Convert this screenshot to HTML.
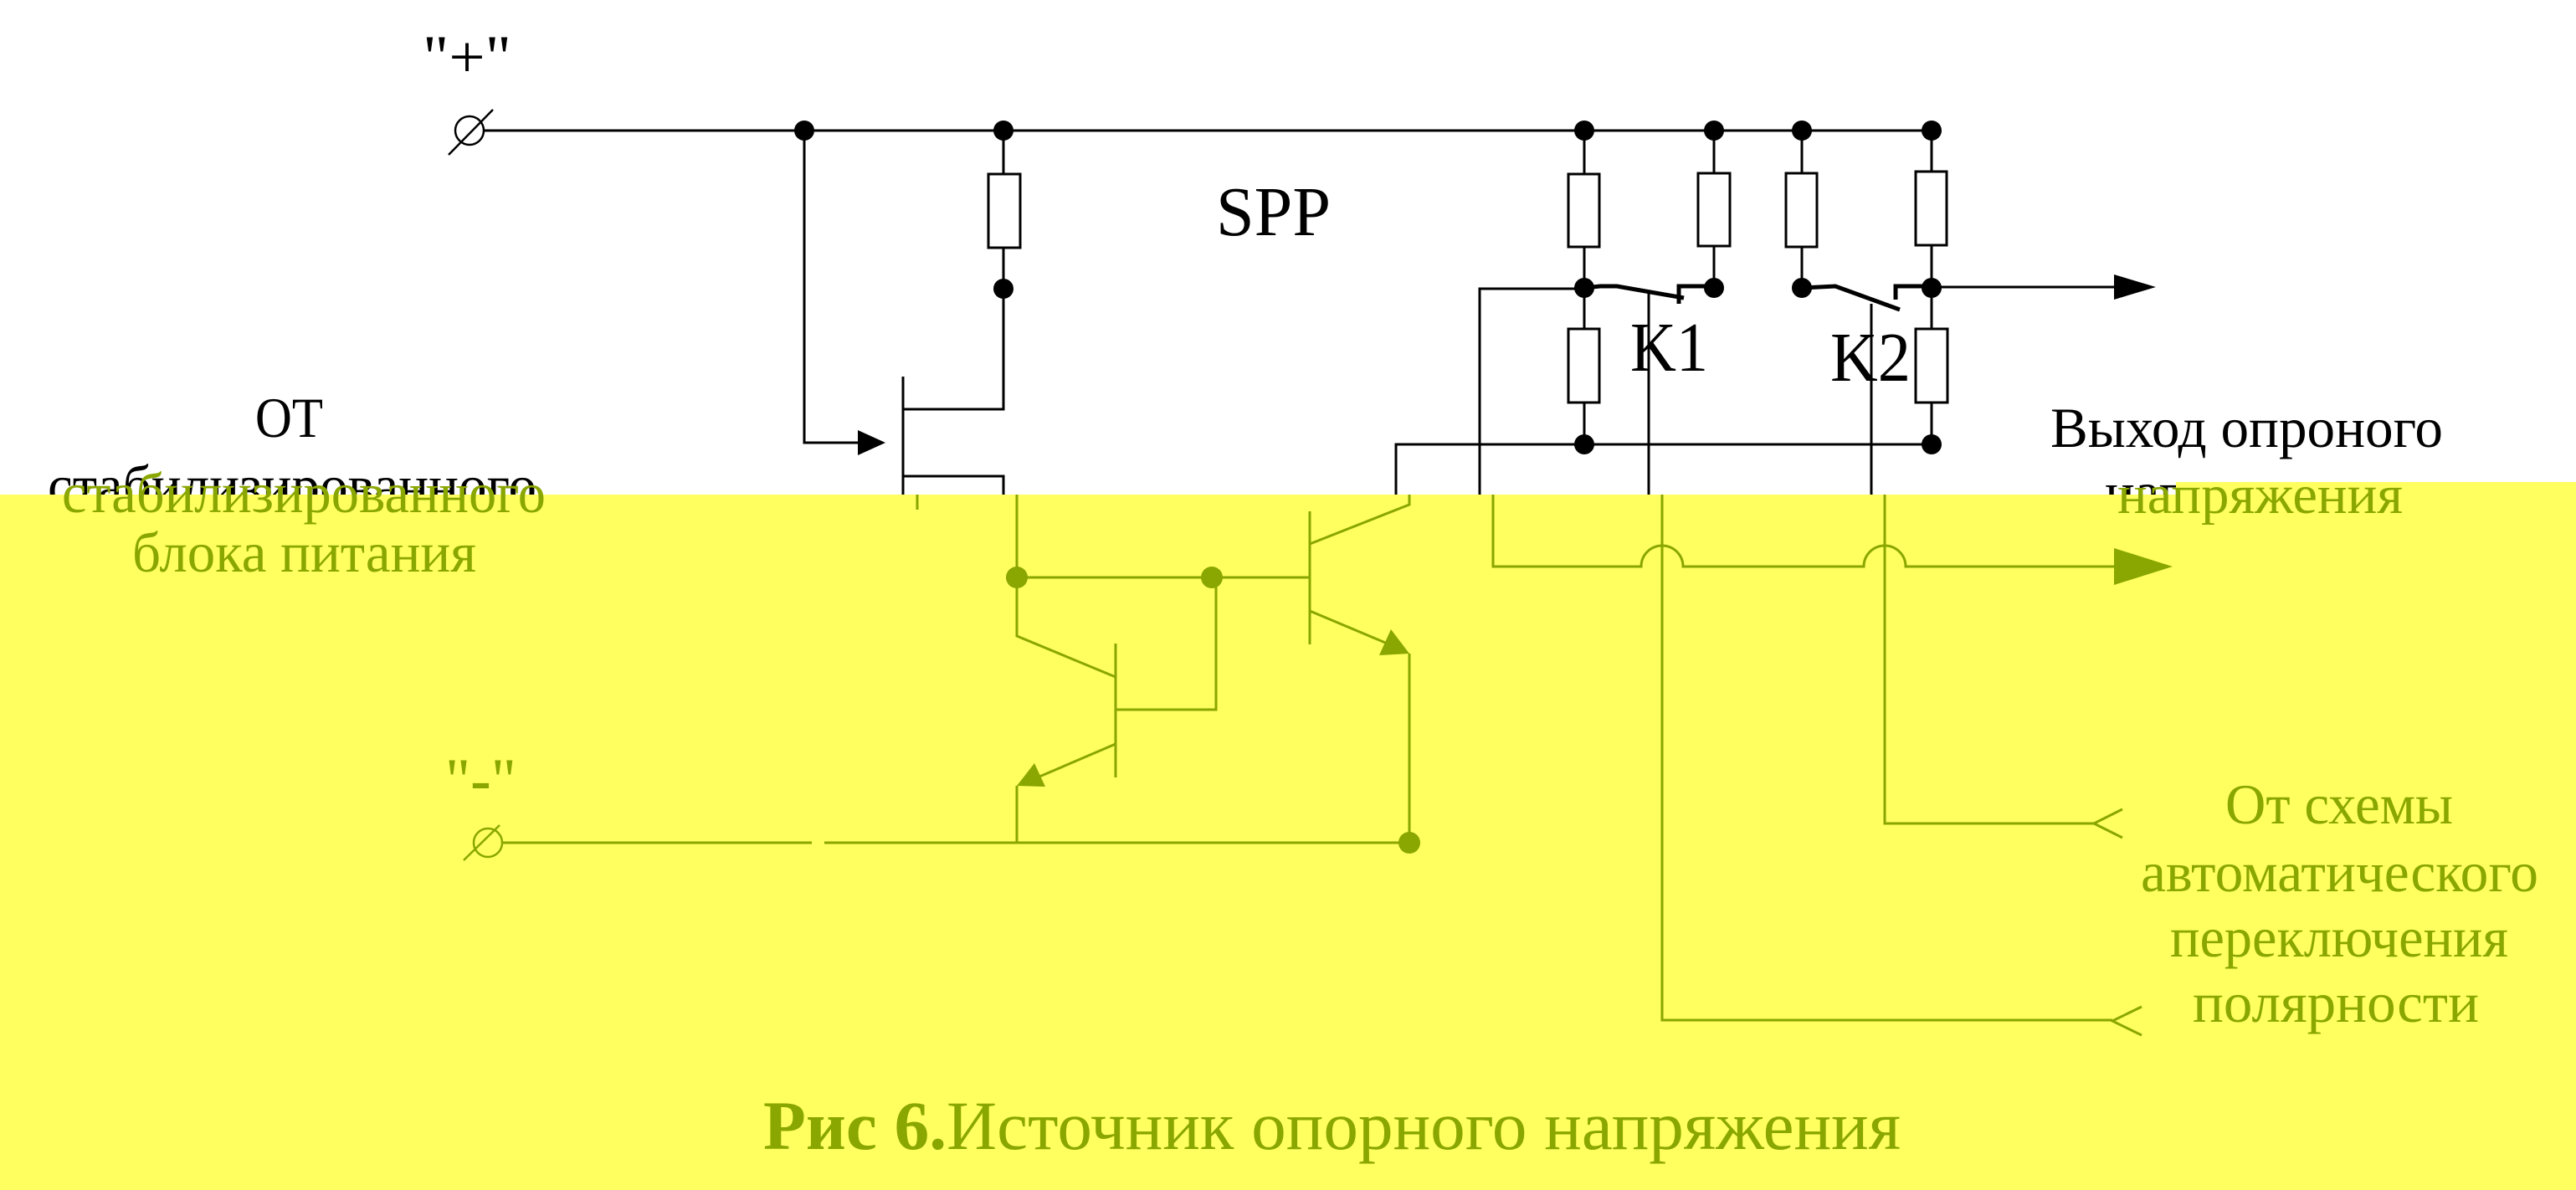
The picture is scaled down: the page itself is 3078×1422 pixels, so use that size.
<!DOCTYPE html>
<html><head><meta charset="utf-8"><style>
html,body{margin:0;padding:0;background:#fff;}
svg{display:block;}
text{font-family:"Liberation Serif","DejaVu Serif",serif;}
</style></head><body>
<svg width="3078" height="1422" viewBox="0 0 3078 1422" xmlns="http://www.w3.org/2000/svg">
<rect width="3078" height="1422" fill="#fff"/>
<!-- BLACK (upper) PART -->
<g stroke="#000" stroke-width="3" fill="none">
  <circle cx="561" cy="156" r="17" stroke-width="2.5"/>
  <line x1="536" y1="185" x2="589" y2="131" stroke-width="2.5"/>
  <path d="M578,156 H2308"/>
  <path d="M961,156 V529 H1030"/>
  <path d="M1199,156 V208 M1199,296 V489 H1079 M1079,450 V591 M1079,569 H1199 V591"/>
  <rect x="1181" y="208" width="38" height="88"/>
  <path d="M1893,156 V208 M1893,295 V393 M1893,481 V531"/>
  <rect x="1874" y="208" width="37" height="87"/>
  <rect x="1874" y="393" width="37" height="88"/>
  <path d="M2048,156 V207 M2048,294 V344"/>
  <rect x="2029" y="207" width="38" height="87"/>
  <path d="M2153,156 V207 M2153,295 V344"/>
  <rect x="2134" y="207" width="37" height="88"/>
  <path d="M2308,156 V205 M2308,293 V393 M2308,481 V531"/>
  <rect x="2289" y="205" width="37" height="88"/>
  <rect x="2289" y="393" width="38" height="88"/>
  <path d="M1768,591 V345 H1893"/>
  <path d="M1668,591 V531 H2308"/>
  <path d="M1970,351 V591 M2236,363 V591"/>
  <path d="M2308,343 H2530"/>
</g>
<g fill="#000">
  <polygon points="1025,514 1025,544 1058,529"/>
  <polygon points="2526,328 2526,358 2576,343"/>
  <circle cx="961" cy="156" r="12"/>
  <circle cx="1199" cy="156" r="12"/>
  <circle cx="1199" cy="345" r="12"/>
  <circle cx="1893" cy="156" r="12"/>
  <circle cx="2048" cy="156" r="12"/>
  <circle cx="2153" cy="156" r="12"/>
  <circle cx="2308" cy="156" r="12"/>
  <circle cx="1893" cy="344" r="12"/>
  <circle cx="2048" cy="344" r="12"/>
  <circle cx="2153" cy="344" r="12"/>
  <circle cx="2308" cy="344" r="12"/>
  <circle cx="1893" cy="531" r="12"/>
  <circle cx="2308" cy="531" r="12"/>
</g>
<g stroke="#000" stroke-width="5" fill="none">
  <path d="M1893,344 L1912,342 L1932,342 L2012,356"/>
  <path d="M2006,363 V342 H2048"/>
  <path d="M2153,344 L2193,342 L2270,370"/>
  <path d="M2265,358 V342 H2308"/>
</g>
<g fill="#000">
  <text x="505" y="92" font-size="72" textLength="106" lengthAdjust="spacingAndGlyphs">"+"</text>
  <text x="1453" y="281" font-size="84" textLength="137" lengthAdjust="spacingAndGlyphs">SPP</text>
  <text x="1948" y="443" font-size="84" textLength="93" lengthAdjust="spacingAndGlyphs">K1</text>
  <text x="2187" y="455" font-size="84" textLength="96" lengthAdjust="spacingAndGlyphs">K2</text>
  <text x="305" y="522" font-size="68" textLength="81" lengthAdjust="spacingAndGlyphs">ОТ</text>
  <text x="57" y="603" font-size="68" textLength="584" lengthAdjust="spacingAndGlyphs">стабилизированного</text>
  <text x="2450" y="534" font-size="68" textLength="469" lengthAdjust="spacingAndGlyphs">Выход опроного</text>
  <text x="2515" y="610" font-size="66" textLength="342" lengthAdjust="spacingAndGlyphs">напряжения</text>
</g>
<!-- YELLOW OVERLAY -->
<path d="M0,591 H2600 V576 H3078 V1422 H0 Z" fill="#FFFF5F"/>
<g stroke="#8AA600" stroke-width="3" fill="none">
  <path d="M1096,591 V609"/>
  <path d="M1215,591 V760 L1333,809"/>
  <path d="M1215,690 H1565"/>
  <path d="M1333,769 V929"/>
  <path d="M1333,848 H1453 V690"/>
  <path d="M1333,889 L1235,931"/>
  <path d="M1215,939 V1006"/>
  <path d="M1565,611 V770"/>
  <path d="M1565,650 L1684,603 V591"/>
  <path d="M1565,730 L1660,770"/>
  <path d="M1684,781 V1006"/>
  <path d="M601,1007 H970 M985,1007 H1684"/>
  <circle cx="583" cy="1007" r="17" stroke-width="2.5"/>
  <line x1="554" y1="1028" x2="597" y2="986" stroke-width="2.5"/>
  <path d="M1784,591 V677 H1961 A25,25 0 0 1 2011,677 H2227 A25,25 0 0 1 2277,677 H2530"/>
  <path d="M1986,591 V1219 H2524"/>
  <path d="M2252,591 V984 H2502"/>
  <path d="M2536,967 L2502,984 L2536,1001"/>
  <path d="M2559,1203 L2524,1220 L2559,1237"/>
</g>
<g fill="#8AA600">
  <polygon points="2526,655 2526,699 2596,677"/>
  <polygon points="1684,781 1648,783 1662,752"/>
  <polygon points="1215,939 1249,940 1236,912"/>
  <circle cx="1215" cy="690" r="13"/>
  <circle cx="1448" cy="690" r="13"/>
  <circle cx="1684" cy="1007" r="13"/>
  <text x="532" y="956" font-size="72" textLength="85" lengthAdjust="spacingAndGlyphs">"<tspan font-weight="bold">-</tspan>"</text>
  <text x="74" y="612" font-size="68" textLength="578" lengthAdjust="spacingAndGlyphs">стабилизированного</text>
  <text x="158" y="683" font-size="68" textLength="411" lengthAdjust="spacingAndGlyphs">блока питания</text>
  <text x="2530" y="613" font-size="66" textLength="341" lengthAdjust="spacingAndGlyphs">напряжения</text>
  <text x="2659" y="984" font-size="68" textLength="272" lengthAdjust="spacingAndGlyphs">От схемы</text>
  <text x="2558" y="1065" font-size="68" textLength="475" lengthAdjust="spacingAndGlyphs">автоматического</text>
  <text x="2593" y="1143" font-size="68" textLength="404" lengthAdjust="spacingAndGlyphs">переключения</text>
  <text x="2620" y="1221" font-size="68" textLength="342" lengthAdjust="spacingAndGlyphs">полярности</text>
  <text x="912" y="1373" font-size="83" textLength="1359" lengthAdjust="spacingAndGlyphs"><tspan font-weight="bold">Рис 6.</tspan>Источник опорного напряжения</text>
</g>
</svg>
</body></html>
